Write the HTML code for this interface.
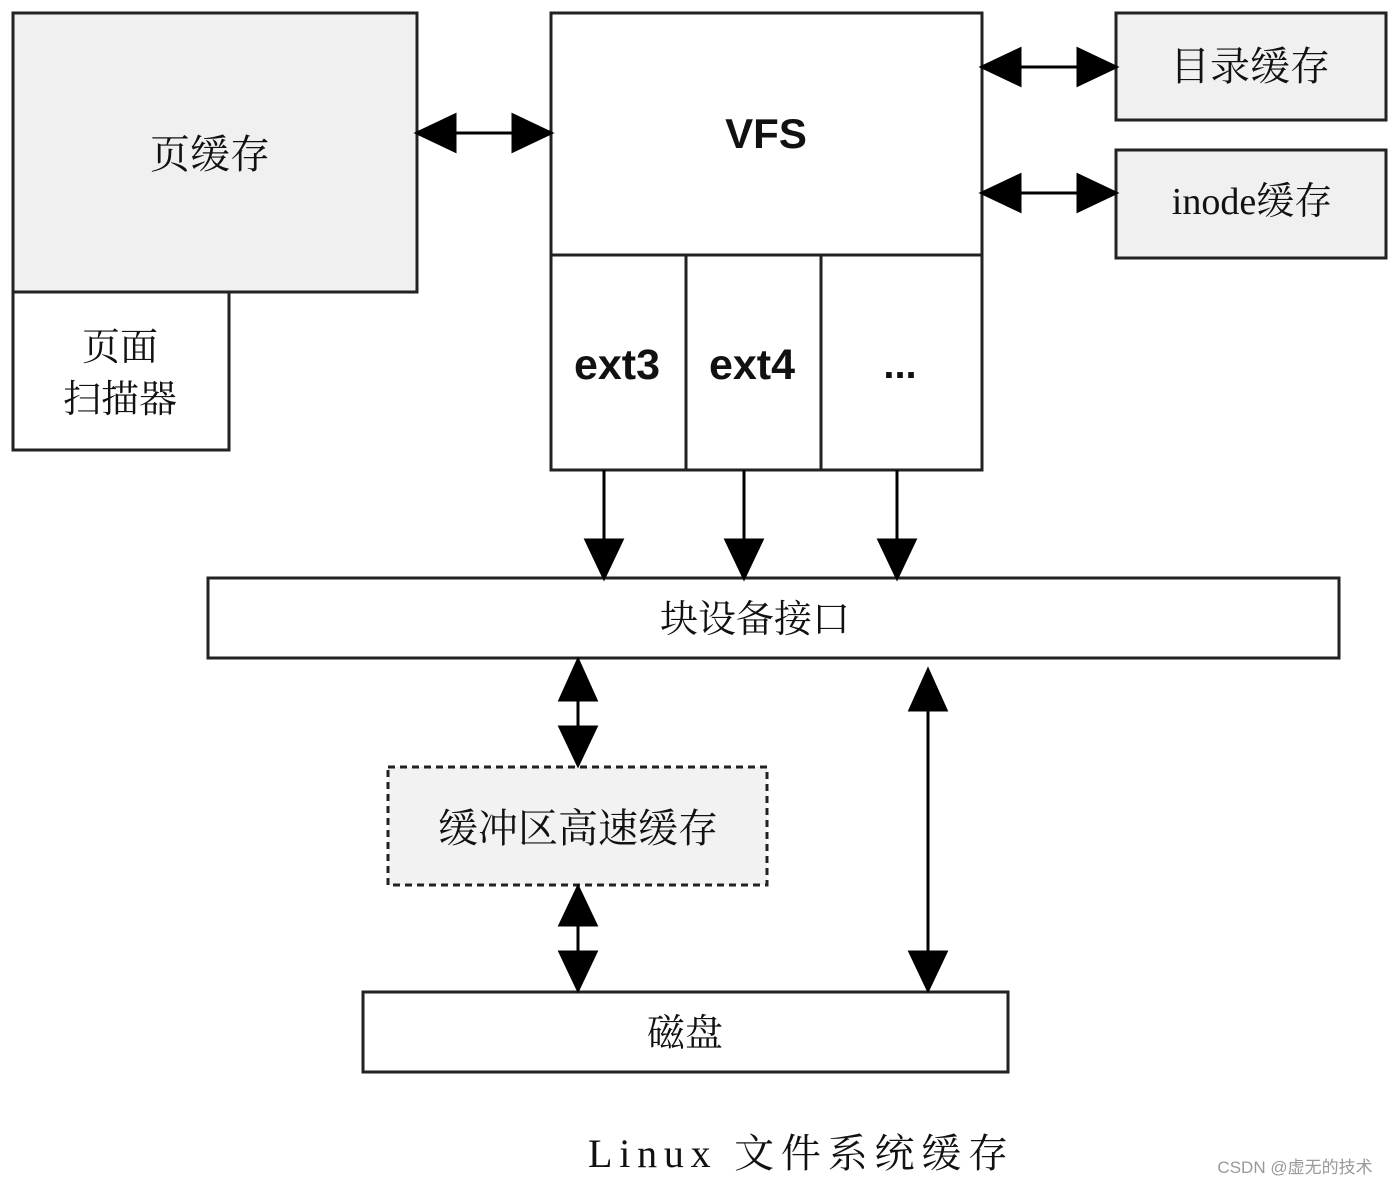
<!DOCTYPE html>
<html><head><meta charset="utf-8"><style>
html,body{margin:0;padding:0;background:#fff;}
svg{display:block;}
.cn{font-family:"Liberation Serif","Noto Serif CJK SC",serif;fill:#111;}
.b{font-family:"Liberation Sans","Noto Sans CJK SC",sans-serif;font-weight:bold;fill:#111;}
</style></head><body>
<svg width="1396" height="1184" viewBox="0 0 1396 1184" xmlns="http://www.w3.org/2000/svg">
<g stroke="#222" stroke-width="3">
<rect x="13" y="13" width="404" height="279" fill="#f0f0f0"/>
<rect x="13" y="292" width="216" height="158" fill="#fff"/>
<rect x="551" y="13" width="431" height="242" fill="#fff"/>
<rect x="551" y="255" width="135" height="215" fill="#fff"/>
<rect x="686" y="255" width="135" height="215" fill="#fff"/>
<rect x="821" y="255" width="161" height="215" fill="#fff"/>
<rect x="1116" y="13" width="270" height="107" fill="#f0f0f0"/>
<rect x="1116" y="150" width="270" height="108" fill="#f0f0f0"/>
<rect x="208" y="578" width="1131" height="80" fill="#fff"/>
<rect x="388" y="767" width="379" height="118" fill="#f2f2f2" stroke-dasharray="7,5"/>
<rect x="363" y="992" width="645" height="80" fill="#fff"/>
</g>
<g stroke="#000" stroke-width="3" fill="#000">
<line x1="440" y1="133" x2="528" y2="133"/>
<polygon points="417,133 455,115 455,151"/><polygon points="551,133 513,115 513,151"/>
<line x1="1005" y1="67" x2="1093" y2="67"/>
<polygon points="982,67 1020,49 1020,85"/><polygon points="1116,67 1078,49 1078,85"/>
<line x1="1005" y1="193" x2="1093" y2="193"/>
<polygon points="982,193 1020,175 1020,211"/><polygon points="1116,193 1078,175 1078,211"/>
<line x1="604" y1="470" x2="604" y2="545"/><polygon points="604,578 586,540 622,540"/>
<line x1="744" y1="470" x2="744" y2="545"/><polygon points="744,578 726,540 762,540"/>
<line x1="897" y1="470" x2="897" y2="545"/><polygon points="897,578 879,540 915,540"/>
<line x1="578" y1="690" x2="578" y2="735"/>
<polygon points="578,660 560,700 596,700"/><polygon points="578,765 560,727 596,727"/>
<line x1="578" y1="915" x2="578" y2="960"/>
<polygon points="578,887 560,925 596,925"/><polygon points="578,990 560,952 596,952"/>
<line x1="928" y1="700" x2="928" y2="960"/>
<polygon points="928,670 910,710 946,710"/><polygon points="928,990 910,952 946,952"/>
</g>
<text class="cn" x="210" y="168" font-size="40" text-anchor="middle">页缓存</text>
<text class="cn" x="120" y="360" font-size="38" text-anchor="middle">页面</text>
<text class="cn" x="120" y="412" font-size="38" text-anchor="middle">扫描器</text>
<text class="b" x="766" y="148" font-size="42" text-anchor="middle">VFS</text>
<text class="b" x="617" y="379" font-size="43" text-anchor="middle">ext3</text>
<text class="b" x="752" y="379" font-size="43" text-anchor="middle">ext4</text>
<text class="b" x="900" y="378" font-size="40" text-anchor="middle">...</text>
<text class="cn" x="1250" y="80" font-size="40" text-anchor="middle">目录缓存</text>
<text class="cn" x="1252" y="214" font-size="38" text-anchor="middle">inode缓存</text>
<text class="cn" x="755" y="632" font-size="38" text-anchor="middle">块设备接口</text>
<text class="cn" x="578" y="842" font-size="40" text-anchor="middle">缓冲区高速缓存</text>
<text class="cn" x="685" y="1046" font-size="38" text-anchor="middle">磁盘</text>
<text class="cn" x="588" y="1167" font-size="40" textLength="420" lengthAdjust="spacing">Linux 文件系统缓存</text>
<text x="1295" y="1173" font-size="17" text-anchor="middle" fill="#999" font-family="Liberation Sans,'Noto Sans CJK SC',sans-serif">CSDN @虚无的技术</text>
</svg>
</body></html>
